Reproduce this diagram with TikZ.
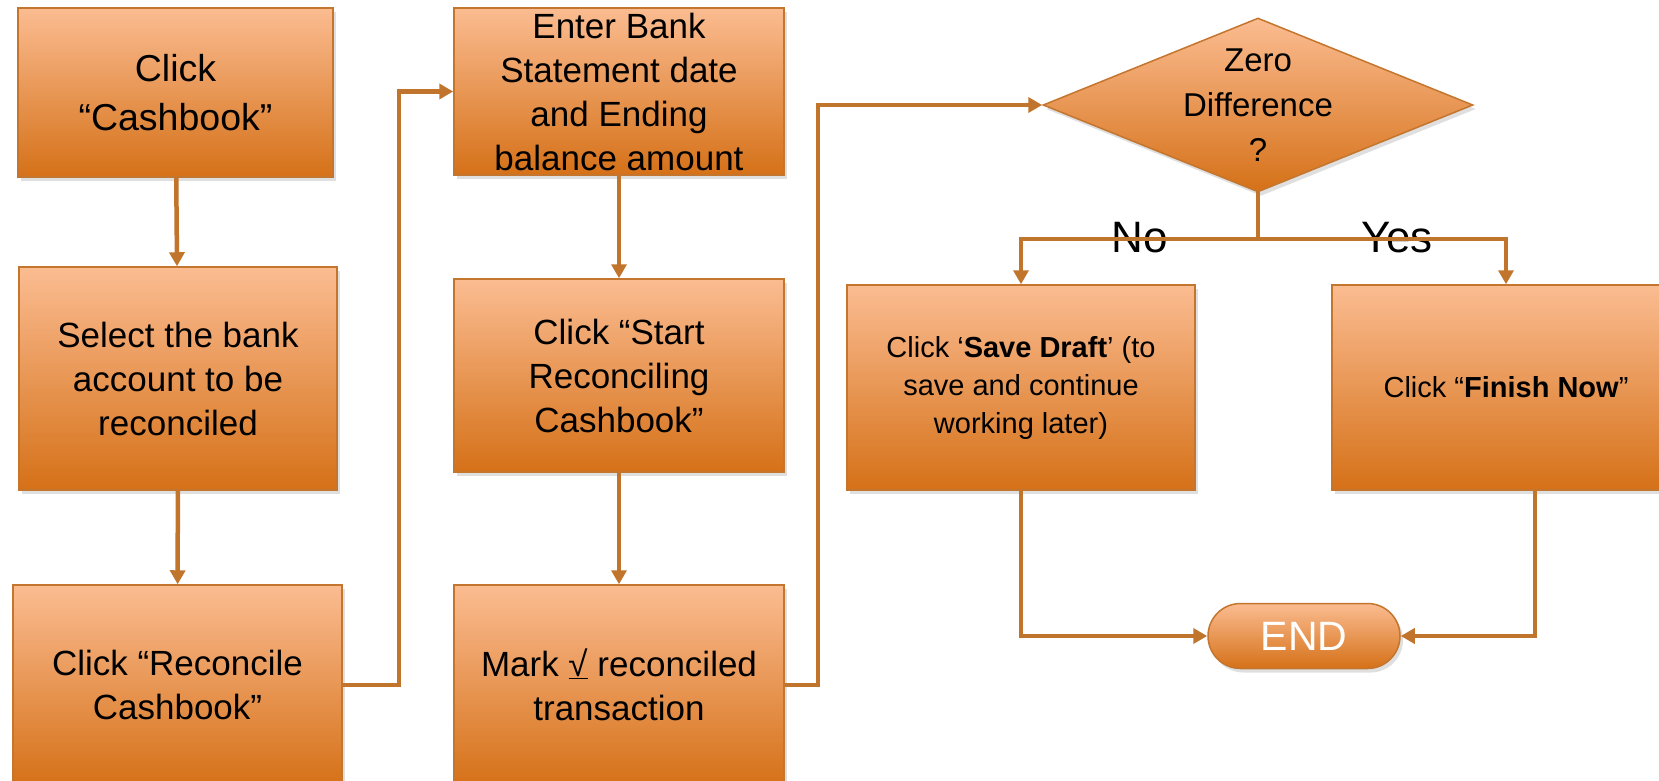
\documentclass[tikz,border=0pt]{standalone}
\usepackage{fontspec}
\setmainfont{Liberation Sans}
\usepackage{tikz}
\usetikzlibrary{positioning, arrows.meta, shapes.geometric, shapes.misc, shadows}
\definecolor{boxtop}{RGB}{251,188,145}
\definecolor{boxbottom}{RGB}{213,113,24}
\definecolor{boxedge}{RGB}{196,117,46}
\definecolor{flowline}{RGB}{193,116,44}
\tikzset{
>={Triangle[length=14pt, width=15pt]}, % filled arrow heads like the slide
flow/.style={->, draw=flowline, line width=4.5pt}, % every connector
stepbox/.style={rectangle, draw=boxedge, line width=1.5pt, top color=boxtop, bottom color=boxbottom, align=center, inner sep=0pt, drop shadow={opacity=0.25, shadow xshift=3pt, shadow yshift=-4pt}}, % the orange boxes
boxfont/.style={font=\fontsize{35}{44}\selectfont}, % text of the boxes
smallfont/.style={font=\fontsize{29}{38}\selectfont}, % text of the two last boxes
}

\begin{document}
\begin{tikzpicture}[x=1pt, y=-1pt]
    \path[use as bounding box, fill=white] (0,0) rectangle (1659,781);
    % first column
    \node[stepbox, minimum width=315pt, minimum height=169pt, font=\fontsize{37.5}{49}\selectfont] (cashbook) at (175.5,92.5) {Click\\“Cashbook”};
    \node[stepbox, boxfont, minimum width=318pt, minimum height=223pt] (selectbank) at (178,378.5) {Select the bank\\account to be\\reconciled};
    \node[stepbox, boxfont, minimum width=329pt, minimum height=200pt] (reconcile) at (177.5,685) {Click “Reconcile\\Cashbook”};
    % second column
    \node[stepbox, boxfont, minimum width=330pt, minimum height=167pt] (enterbank) at (619,91.5) {Enter Bank\\Statement date\\and Ending\\balance amount};
    \node[stepbox, boxfont, minimum width=330pt, minimum height=193pt] (startrec) at (619,375.5) {Click “Start\\Reconciling\\Cashbook”};
    \node[stepbox, boxfont, minimum width=330pt, minimum height=200pt] (markrec) at (619,685) {Mark \underline{√} reconciled\\transaction};
    % decision and ends
    \node[stepbox, diamond, shape aspect=2.47, inner sep=-12pt, minimum width=430pt, minimum height=174pt, font=\fontsize{33}{45}\selectfont] (zerodiff) at (1258,105) {Zero\\Difference\\?};
    \node[stepbox, smallfont, minimum width=348pt, minimum height=205pt] (savedraft) at (1021,387.5) {Click ‘\textbf{Save Draft}’ (to\\save and continue\\working later)};
    \node[stepbox, smallfont, minimum width=348pt, minimum height=205pt] (finish) at (1506,387.5) {Click “\textbf{Finish Now}”};
    \node[stepbox, rounded rectangle, minimum width=192pt, minimum height=65pt, text=white, font=\fontsize{41}{41}\selectfont] (theend) at (1304,636) {END};
    \node[font=\fontsize{44}{44}\selectfont] (no) at (1140,238) {No};
    \node[font=\fontsize{44}{44}\selectfont] (yes) at (1397,238) {Yes};
    \draw[flow] (cashbook) -- (selectbank);
    \draw[flow] (selectbank) -- (reconcile);
    \draw[flow] (reconcile.east) -- ++(56,0) |- (enterbank.west);
    \draw[flow] (enterbank) -- (startrec);
    \draw[flow] (startrec) -- (markrec);
    \draw[flow] (markrec.east) -- ++(33,0) |- (zerodiff.west);
    \draw[flow, -, line cap=rect] (zerodiff.south) -- ++(0,46) coordinate (split);
    \draw[flow] (split) -| (savedraft.north);
    \draw[flow] (split) -| (finish.north);
    \draw[flow] (savedraft.south) |- (theend.west);
    \draw[flow] ([xshift=29pt]finish.south) |- (theend.east);
\end{tikzpicture}
\end{document}
